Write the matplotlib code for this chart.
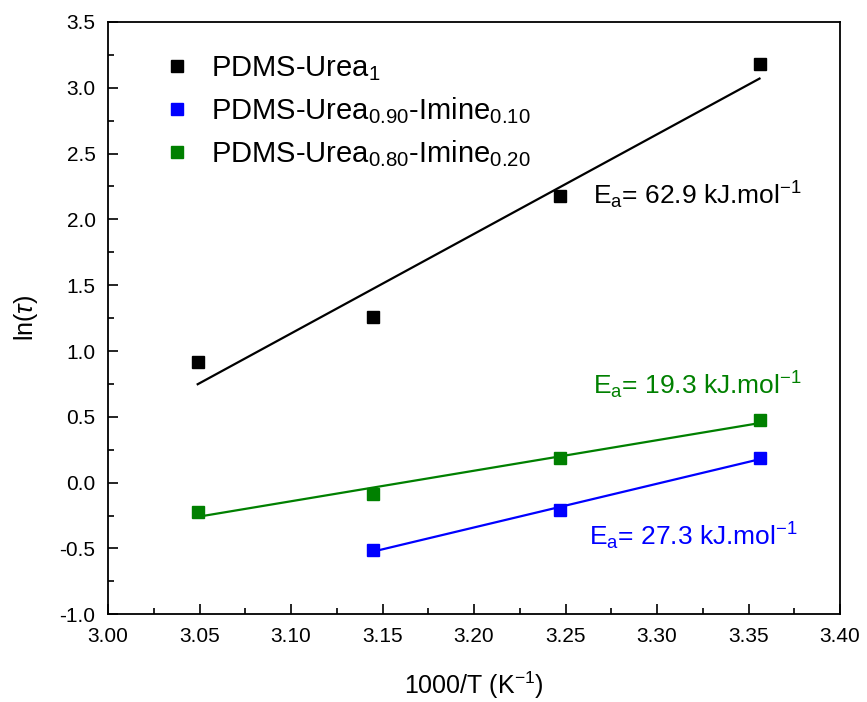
import numpy as np
import matplotlib.pyplot as plt

plt.rcParams['font.family'] = ['Liberation Sans', 'DejaVu Sans']
plt.rcParams['mathtext.fontset'] = 'custom'
plt.rcParams['mathtext.rm'] = 'Liberation Sans'
plt.rcParams['mathtext.it'] = 'Liberation Sans:italic'

# data
x_urea = [3.049, 3.145, 3.247, 3.356]
y_urea = [0.92, 1.257, 2.18, 3.18]
x_im10 = [3.145, 3.247, 3.356]
y_im10 = [-0.51, -0.21, 0.19]
x_im20 = [3.049, 3.145, 3.247, 3.356]
y_im20 = [-0.22, -0.09, 0.19, 0.475]

labels = [r'PDMS-Urea$_\mathregular{1}$',
          r'PDMS-Urea$_\mathregular{0.90}$-Imine$_\mathregular{0.10}$',
          r'PDMS-Urea$_\mathregular{0.80}$-Imine$_\mathregular{0.20}$']
ea_text = [r'E$_\mathregular{a}$= 62.9 kJ.mol$^\mathregular{-1}$',
           r'E$_\mathregular{a}$= 27.3 kJ.mol$^\mathregular{-1}$',
           r'E$_\mathregular{a}$= 19.3 kJ.mol$^\mathregular{-1}$']
ea_pos = [(3.265, 2.18), (3.263, -0.41), (3.265, 0.74)]
colors = ['#000000', '#0000ff', '#008000']

fig = plt.figure(figsize=(8.67, 7.02), dpi=100)
ax = fig.add_axes([0.1246, 0.125, 0.8443, 0.8437])

series = [(x_urea, y_urea), (x_im10, y_im10), (x_im20, y_im20)]
for (xs, ys), lab, c in zip(series, labels, colors):
    xs = np.array(xs)
    ax.plot(xs, ys, 's', color=c, ms=8.5, label=lab, zorder=3)
    k, b = np.polyfit(xs, ys, 1)
    ax.plot(xs[[0, -1]], k * xs[[0, -1]] + b, '-', color=c, lw=1.6)

for t, (px, py), c in zip(ea_text, ea_pos, colors):
    ax.text(px, py, t, color=c, fontsize=19, va='center', ha='left')

ax.set_xlim(3.0, 3.4)
ax.set_ylim(-1.0, 3.5)
ax.set_xticks(np.arange(3.0, 3.41, 0.05))
ax.set_xticklabels(['%.2f' % v for v in np.arange(3.0, 3.41, 0.05)])
ax.set_yticks(np.arange(-1.0, 3.51, 0.5))
ax.set_yticklabels(['%.1f' % v for v in np.arange(-1.0, 3.51, 0.5)])
ax.set_xticks(np.arange(3.025, 3.4, 0.05), minor=True)
ax.set_yticks(np.arange(-0.75, 3.5, 0.5), minor=True)
ax.tick_params(which='both', direction='in', labelsize=15, top=False, right=False)
ax.tick_params(which='major', length=7, width=1.2)
ax.tick_params(which='minor', length=4, width=1.2)
ax.tick_params(axis='x', which='major', pad=9)
ax.tick_params(axis='y', which='major', pad=9)
for s in ax.spines.values():
    s.set_linewidth(1.3)

ax.set_xlabel(r'1000/T (K$^\mathregular{-1}$)', fontsize=18, labelpad=17)
ax.set_ylabel(r'ln($\tau$)', fontsize=18, labelpad=14)

ax.legend(loc='upper left', frameon=False, fontsize=21, handletextpad=0.55,
          borderaxespad=0.0, labelspacing=0.42, handlelength=1.2,
          bbox_to_anchor=(0.055, 0.965))

plt.savefig('out.png', dpi=100)
